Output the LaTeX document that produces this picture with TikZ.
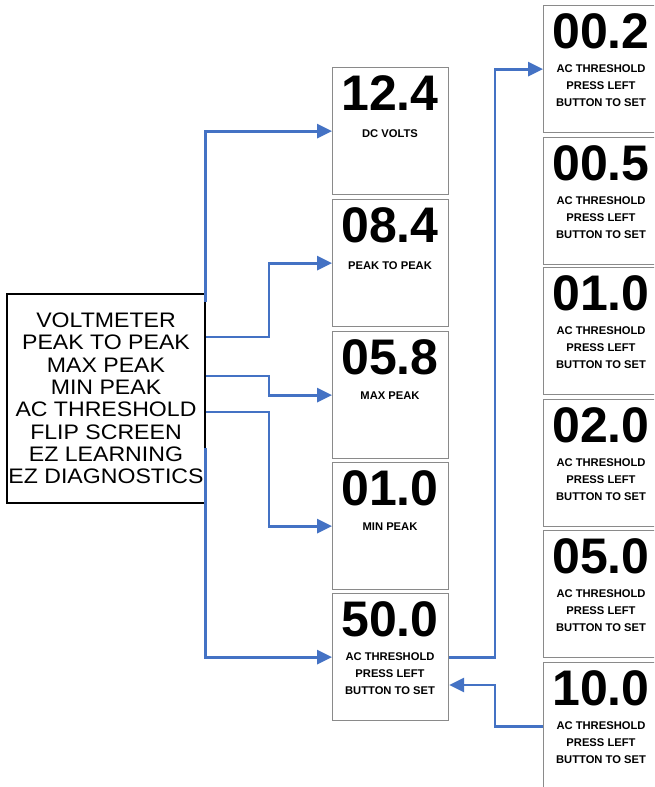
\documentclass[tikz,border=0pt]{standalone}
\usepackage{fontspec}
\setmainfont{Liberation Sans}
\newfontfamily\menufont[FakeStretch=1.1]{Liberation Sans}
\usetikzlibrary{arrows.meta}
\definecolor{conn}{HTML}{4472C4}
\definecolor{framegray}{HTML}{8A8A8A}
\tikzset{
  screen/.style={draw=framegray, line width=1.2pt, minimum width=116pt, minimum height=127pt, inner sep=0pt, anchor=north west},
  bignum/.style={font=\fontsize{50}{50}\bfseries\selectfont, anchor=base, inner sep=0pt},
  lbl/.style={font=\fontsize{11.2}{17}\bfseries\selectfont, align=center, anchor=north, inner sep=0pt},
  menubox/.style={draw=black, line width=1.5pt, minimum width=198pt, minimum height=209pt, inner sep=0pt, align=center, font=\menufont\fontsize{21}{22.3}\selectfont},
  link/.style={draw=conn, line width=2.8pt, -{Triangle[length=15pt,width=14pt]}},
}
\begin{document}
\begin{tikzpicture}[x=1pt,y=-1pt]
\useasboundingbox (0,0) rectangle (654,787);
\clip (0,0) rectangle (654,787);
\fill[white] (0,0) rectangle (654,787);

% left menu
\node[menubox] (menu) at (106,398.5) {VOLTMETER\\PEAK TO PEAK\\MAX PEAK\\MIN PEAK\\AC THRESHOLD\\FLIP SCREEN\\EZ LEARNING\\EZ DIAGNOSTICS};

% middle column
\foreach \n/\t/\v in {m1/67/12.4, m2/199/08.4, m3/331/05.8, m4/462/01.0, m5/593/50.0} {
  \node[screen] (\n) at (332,\t) {};
  \node[bignum] (\n num) at (390,\t+43) {\v};
}
\node[lbl] (m1lbl) at (390,67+62) {DC VOLTS};
\node[lbl] (m2lbl) at (390,199+62) {PEAK TO PEAK};
\node[lbl] (m3lbl) at (390,331+61) {MAX PEAK};
\node[lbl] (m4lbl) at (390,462+61) {MIN PEAK};
\node[lbl] (m5lbl) at (390,593+59.5) {AC THRESHOLD\\PRESS LEFT\\BUTTON TO SET};

% right column
\foreach \n/\t/\v in {r1/5/00.2, r2/137/00.5, r3/267/01.0, r4/399/02.0, r5/530/05.0, r6/662/10.0} {
  \node[screen] (\n) at (543,\t) {};
  \node[bignum] (\n num) at (601,\t+43) {\v};
  \node[lbl] (\n lbl) at (601,\t+59) {AC THRESHOLD\\PRESS LEFT\\BUTTON TO SET};
}

% connectors
\coordinate (jx) at (269,0);
\coordinate (rx) at (495,0);
\draw[link] (menu.east |- 0,302) |- (m1.west);
\draw[link] (menu.east |- 0,337) -| (jx |- m2.west) -- (m2.west);
\draw[link] (menu.east |- 0,376) -| (jx |- m3.west) -- (m3.west);
\draw[link] (menu.east |- 0,412) -| (jx |- m4.west) -- (m4.west);
\draw[link] (menu.east |- 0,448) |- (m5.west);
\draw[link] (m5.east) -| (rx |- r1.west) -- (r1.west);
\draw[link] (r6.west) -| (rx |- 0,685) -- (m5.east |- 0,685);
\end{tikzpicture}
\end{document}
